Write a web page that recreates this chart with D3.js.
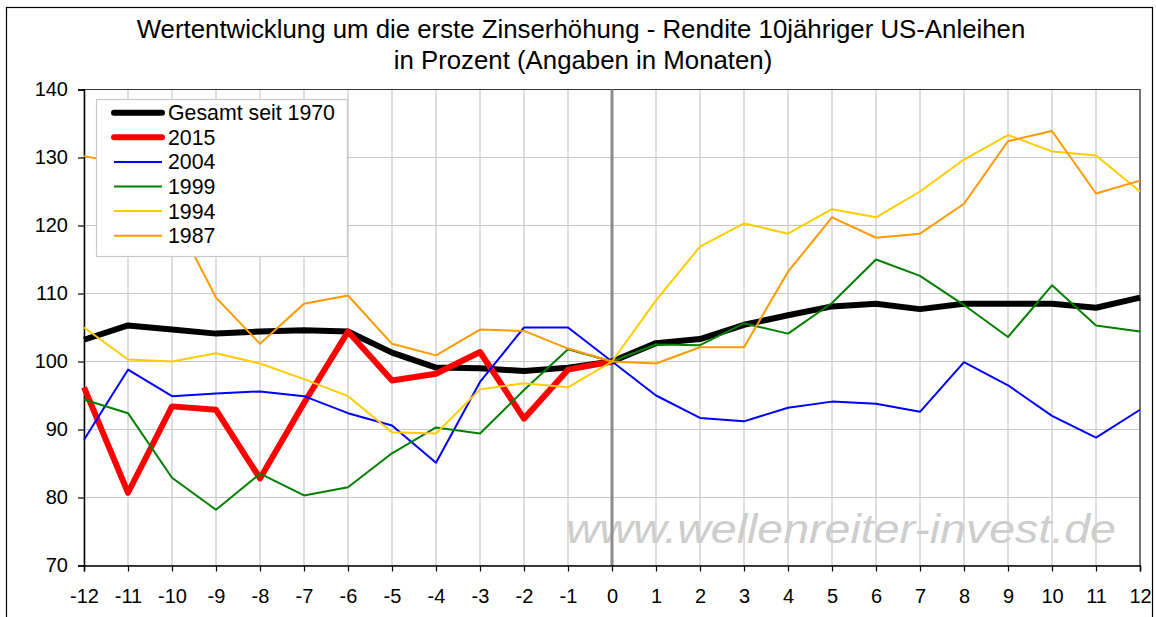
<!DOCTYPE html>
<html lang="de">
<head>
    <meta charset="UTF-8">
    <title>Wertentwicklung um die erste Zinserhöhung</title>
    <script src="https://d3js.org/d3.v7.min.js"></script>
    <style>
        body { margin: 0; background: #fff; }
        svg { display: block; font-family: "Liberation Sans", Arial, sans-serif; }
    </style>
</head>
<body>
    <svg id="chart" width="1156" height="617"></svg>
    <script>
        // Months around the first rate hike
        const months = d3.range(-12, 13);

        // Series values (index = 100 at month 0)
        const gesamt = [103.2, 105.3, 104.7, 104.1, 104.4, 104.6, 104.4, 101.3, 99.1, 99.0, 98.6, 99.1, 100,
                        102.7, 103.3, 105.4, 106.8, 108.1, 108.5, 107.7, 108.5, 108.5, 108.5, 107.9, 109.4];
        const y2015 = [96.2, 80.7, 93.4, 92.9, 82.8, 93.9, 104.4, 97.2, 98.2, 101.4, 91.6, 98.8, 100];
        const y2004 = [88.5, 98.8, 94.9, 95.3, 95.6, 94.9, 92.4, 90.6, 85.1, 97.0, 105.0, 105.0, 100,
                       95.0, 91.7, 91.2, 93.2, 94.1, 93.8, 92.6, 99.9, 96.5, 92.0, 88.8, 92.9];
        const y1999 = [94.4, 92.4, 82.9, 78.2, 83.5, 80.3, 81.5, 86.5, 90.3, 89.4, 95.8, 101.8, 100,
                       102.5, 102.4, 105.6, 104.1, 108.6, 115.0, 112.6, 108.3, 103.6, 111.2, 105.3, 104.4];
        const y1994 = [105.0, 100.3, 100.0, 101.2, 99.7, 97.4, 94.9, 89.6, 89.4, 95.9, 96.8, 96.2, 100,
                       109.0, 116.9, 120.3, 118.8, 122.4, 121.2, 125.0, 129.7, 133.3, 130.9, 130.3, 125.0];
        const y1987 = [130.2, 129.0, 121.9, 109.4, 102.6, 108.5, 109.7, 102.6, 100.9, 104.7, 104.5, 101.9, 100,
                       99.7, 102.1, 102.1, 113.2, 121.2, 118.2, 118.8, 123.2, 132.4, 133.9, 124.7, 126.6];

        const seriesNames = ["Gesamt seit 1970", "2015", "2004", "1999", "1994", "1987"];
        const seriesValues = [gesamt, y2015, y2004, y1999, y1994, y1987];
        const seriesColors = ["#000000", "#ff0000", "#0000ff", "#008000", "#ffcc00", "#ff9900"];
        const seriesWidths = [6, 6, 2, 2, 2, 2];

        const yTicks = [70, 80, 90, 100, 110, 120, 130, 140];

        const svg = d3.select("#chart");

        // outer frame
        svg.append("rect")
            .attr("x", 6.5).attr("y", 7.5)
            .attr("width", 1146).attr("height", 640)
            .attr("fill", "none").attr("stroke", "#000").attr("stroke-width", 1.2);

        const x = d3.scaleLinear().domain([-12, 12]).range([84, 1140]);
        const y = d3.scaleLinear().domain([70, 140]).range([565.5, 89.5]);

        // grid
        svg.append("g")
            .selectAll("line")
            .data(months)
            .join("line")
            .attr("x1", d => x(d)).attr("x2", d => x(d))
            .attr("y1", y(140)).attr("y2", y(70))
            .attr("stroke", "#c8c8c8").attr("stroke-width", 1.2);

        svg.append("g")
            .selectAll("line")
            .data(yTicks)
            .join("line")
            .attr("x1", x(-12)).attr("x2", x(12))
            .attr("y1", d => y(d)).attr("y2", d => y(d))
            .attr("stroke", "#c8c8c8").attr("stroke-width", 1.2);

        // frame of plot area (top and right)
        svg.append("path")
            .attr("d", `M${x(-12)},${y(140)}H${x(12)}V${y(70)}`)
            .attr("fill", "none").attr("stroke", "#333").attr("stroke-width", 1.2);

        // watermark
        svg.append("text")
            .attr("x", 566).attr("y", 543)
            .attr("font-size", 40)
            .attr("font-style", "italic")
            .attr("fill", "#cdcdcd")
            .attr("textLength", 550)
            .attr("lengthAdjust", "spacingAndGlyphs")
            .text("www.wellenreiter-invest.de");

        // zero line
        svg.append("line")
            .attr("x1", x(0)).attr("x2", x(0))
            .attr("y1", y(140)).attr("y2", y(70))
            .attr("stroke", "#8c8c8c").attr("stroke-width", 3);

        // axes
        const yAxis = svg.append("g")
            .attr("transform", `translate(${x(-12)},0)`)
            .call(d3.axisLeft(y).tickValues(yTicks).tickSize(6).tickPadding(10));
        const xAxis = svg.append("g")
            .attr("transform", `translate(0,${y(70)})`)
            .call(d3.axisBottom(x).tickValues(months).tickFormat(d => String(d)).tickSize(6).tickPadding(17));

        [yAxis, xAxis].forEach(g => {
            g.select(".domain").attr("stroke", "#000").attr("stroke-width", 1.5);
            g.selectAll(".tick line").attr("stroke", "#000").attr("stroke-width", 1.2);
            g.selectAll(".tick text")
                .attr("font-family", "Liberation Sans, Arial, sans-serif")
                .attr("font-size", 20).attr("fill", "#000");
        });

        // lines
        const line = d3.line()
            .x((d, i) => x(months[i]))
            .y(d => y(d));

        svg.append("g")
            .selectAll("path")
            .data(seriesValues)
            .join("path")
            .attr("d", d => line(d))
            .attr("fill", "none")
            .attr("stroke", (d, i) => seriesColors[i])
            .attr("stroke-width", (d, i) => seriesWidths[i])
            .attr("stroke-linejoin", "round");

        // legend
        const legend = svg.append("g");
        legend.append("rect")
            .attr("x", 96.5).attr("y", 99.5)
            .attr("width", 251).attr("height", 157)
            .attr("fill", "#fff").attr("stroke", "#c8c8c8").attr("stroke-width", 1.2);

        const items = legend.selectAll("g")
            .data(seriesNames)
            .join("g")
            .attr("transform", (d, i) => `translate(0,${112.7 + i * 24.6})`);
        items.append("line")
            .attr("x1", 114).attr("x2", 162)
            .attr("stroke", (d, i) => seriesColors[i])
            .attr("stroke-width", (d, i) => seriesWidths[i])
            .attr("stroke-linecap", (d, i) => seriesWidths[i] > 3 ? "round" : "butt");
        items.append("text")
            .attr("x", 168).attr("y", 7.5)
            .attr("font-size", 21.3)
            .text(d => d);

        // title
        const title = svg.append("text")
            .attr("text-anchor", "middle")
            .attr("font-size", 25.8)
            .attr("fill", "#000");
        title.append("tspan").attr("x", 581).attr("y", 37.5)
            .text("Wertentwicklung um die erste Zinserhöhung - Rendite 10jähriger US-Anleihen");
        title.append("tspan").attr("x", 583).attr("y", 68.5)
            .text("in Prozent (Angaben in Monaten)");
    </script>
</body>
</html>
